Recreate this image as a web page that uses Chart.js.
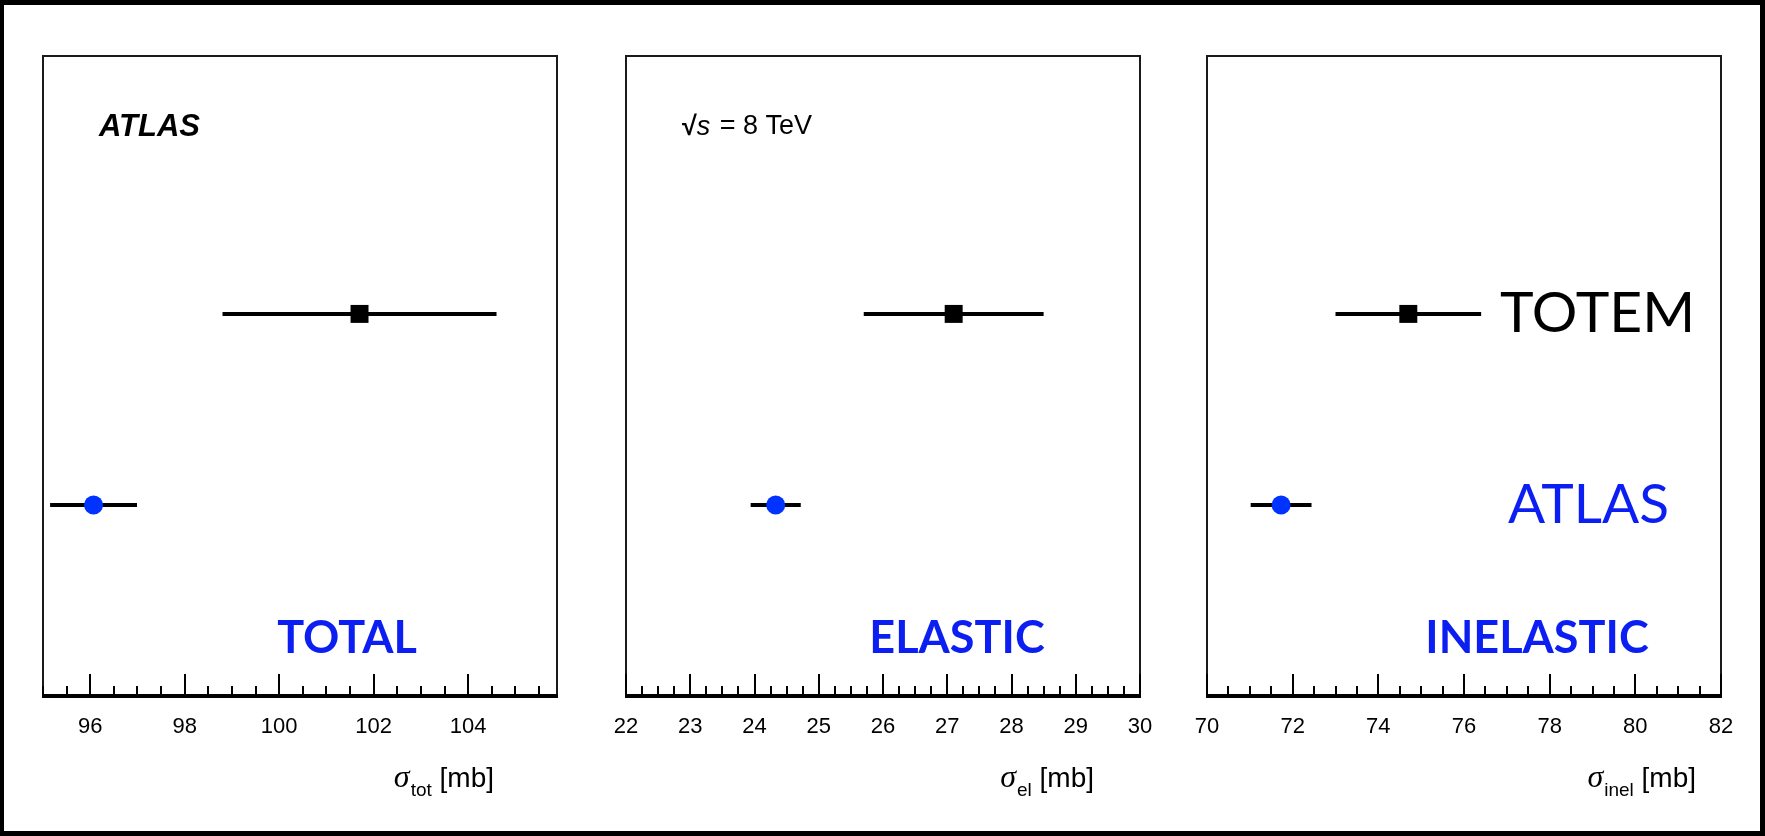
<!DOCTYPE html>
<html>
<head>
<meta charset="utf-8">
<script src="https://cdn.jsdelivr.net/npm/chart.js@4.4.0/dist/chart.umd.min.js"></script>
<style>
  html, body { margin: 0; padding: 0; background: #000; width: 1765px; height: 836px; overflow: hidden; }
  #page { position: absolute; left: 4px; top: 5px; width: 1756px; height: 826px; background: #fff; }
  canvas { position: absolute; top: 0; }
</style>
</head>
<body>
<div id="page"></div>
<canvas id="c0" width="591" height="836" style="left:0px"></canvas>
<canvas id="c1" width="582" height="836" style="left:591px"></canvas>
<canvas id="c2" width="592" height="836" style="left:1173px"></canvas>
<script>
// measurements (mb), 8 TeV
const panelNames = ['TOTAL', 'ELASTIC', 'INELASTIC'];
const experiments = ['ATLAS', 'TOTEM'];
const atlasValues = [96.07, 24.33, 71.73];
const atlasErrors = [0.92, 0.39, 0.71];
const totemValues = [101.7, 27.1, 74.7];
const totemErrors = [2.9, 1.4, 1.7];

// x axes
const axisMin = [95, 22, 70];
const axisMax = [105.88, 30, 82];
const tickLabels = [
    ['96', '98', '100', '102', '104'],
    ['22', '23', '24', '25', '26', '27', '28', '29', '30'],
    ['70', '72', '74', '76', '78', '80', '82']
];
const minorStep = [0.5, 0.25, 0.5];
const axisSubscripts = ['tot', 'el', 'inel'];

const BLUE_TEXT = '#0c1ff2';
const BLUE_MARK = '#0033ff';
const pads = [[43, 34], [35, 33], [34, 44]];
const labelCenter = [304, 331, 330];
const titleRight = [63, 46, 25];

function drawAxisTitle(ctx, xRight, y, sub) {
    const fSigma = 'italic 32px "Liberation Serif", serif';
    const fSub = '19px "Liberation Sans", Arial, sans-serif';
    const fMain = '28px "Liberation Sans", Arial, sans-serif';
    ctx.font = fMain; const wMain = ctx.measureText(' [mb]').width;
    ctx.font = fSub; const wSub = ctx.measureText(sub).width;
    ctx.font = fSigma; const wSig = ctx.measureText('σ').width;
    let x = xRight - wMain - wSub - wSig - 1;
    ctx.fillStyle = '#000';
    ctx.textAlign = 'left';
    ctx.textBaseline = 'alphabetic';
    ctx.font = fSigma; ctx.fillText('σ', x, y); x += wSig + 1;
    ctx.font = fSub; ctx.fillText(sub, x, y + 9); x += wSub;
    ctx.font = fMain; ctx.fillText(' [mb]', x, y);
}

const decor = {
    id: 'decor',
    beforeDatasetsDraw(chart) {
        const ctx = chart.ctx;
        const xs = chart.scales.x, ys = chart.scales.y;
        ctx.save();
        ctx.strokeStyle = '#000';
        ctx.lineWidth = 4;
        chart.data.datasets.forEach(ds => {
            ds.data.forEach((p, k) => {
                const e = ds.errors[k];
                const py = ys.getPixelForValue(p.y);
                ctx.beginPath();
                ctx.moveTo(xs.getPixelForValue(p.x - e), py);
                ctx.lineTo(xs.getPixelForValue(p.x + e), py);
                ctx.stroke();
            });
        });
        ctx.restore();
    },
    afterDraw(chart) {
        const ctx = chart.ctx;
        const i = chart.options.panelIndex;
        const a = chart.chartArea;
        const xs = chart.scales.x, ys = chart.scales.y;
        ctx.save();
        // frame
        ctx.strokeStyle = '#1a1a1a';
        ctx.lineWidth = 2;
        ctx.beginPath();
        ctx.moveTo(a.left, a.bottom);
        ctx.lineTo(a.left, a.top);
        ctx.lineTo(a.right, a.top);
        ctx.lineTo(a.right, a.bottom);
        ctx.stroke();
        ctx.strokeStyle = '#000';
        ctx.lineWidth = 4;
        ctx.beginPath();
        ctx.moveTo(a.left - 1, a.bottom);
        ctx.lineTo(a.right + 1, a.bottom);
        ctx.stroke();
        // tick marks
        const majors = tickLabels[i].map(Number);
        ctx.lineWidth = 2;
        const step = minorStep[i];
        for (let v = Math.ceil(axisMin[i] / step) * step; v <= axisMax[i] + 1e-9; v += step) {
            const isMajor = majors.some(m => Math.abs(m - v) < 1e-6);
            const px = Math.round(xs.getPixelForValue(v));
            ctx.beginPath();
            ctx.moveTo(px, a.bottom);
            ctx.lineTo(px, a.bottom - (isMajor ? 22 : 10));
            ctx.stroke();
        }
        // panel label
        ctx.fillStyle = BLUE_TEXT;
        ctx.font = 'bold 45px Lato, "Open Sans", sans-serif';
        ctx.textAlign = 'center';
        ctx.textBaseline = 'middle';
        ctx.fillText(panelNames[i], a.left + labelCenter[i], 638);
        // top-left labels
        ctx.fillStyle = '#000';
        ctx.textAlign = 'left';
        if (i === 0) {
            ctx.font = 'italic bold 31px "Liberation Sans", Arial, sans-serif';
            ctx.fillText('ATLAS', a.left + 56, 127);
        } else if (i === 1) {
            ctx.font = 'bold 27px "Liberation Sans", Arial, sans-serif';
            let x = a.left + 56;
            ctx.fillText('√', x, 128); x += ctx.measureText('√').width;
            ctx.font = 'italic 27px "Liberation Sans", Arial, sans-serif';
            ctx.fillText('s', x, 127); x += ctx.measureText('s').width + 2;
            ctx.font = '27px "Liberation Sans", Arial, sans-serif';
            ctx.fillText(' = 8 TeV', x, 127);
        } else {
            ctx.font = '57px Lato, "Open Sans", sans-serif';
            ctx.fillStyle = '#000';
            ctx.fillText(experiments[1], a.left + 293, ys.getPixelForValue(2));
            ctx.fillStyle = BLUE_TEXT;
            ctx.font = '55px Lato, "Open Sans", sans-serif';
            ctx.fillText(experiments[0], a.left + 301, ys.getPixelForValue(1));
        }
        // axis title
        drawAxisTitle(ctx, a.right - titleRight[i], 787, axisSubscripts[i]);
        ctx.restore();
    }
};

for (let i = 0; i < 3; i++) {
    const ctx = document.getElementById('c' + i).getContext('2d');
    const majors = tickLabels[i].map(Number);
    new Chart(ctx, {
        type: 'scatter',
        data: {
            datasets: [
                {
                    label: experiments[1],
                    data: [{ x: totemValues[i], y: experiments.indexOf('TOTEM') + 1 }],
                    errors: [totemErrors[i]],
                    pointStyle: 'rect',
                    pointRadius: 12.7,
                    backgroundColor: '#000',
                    borderWidth: 0
                },
                {
                    label: experiments[0],
                    data: [{ x: atlasValues[i], y: experiments.indexOf('ATLAS') + 1 }],
                    errors: [atlasErrors[i]],
                    pointStyle: 'circle',
                    pointRadius: 9.5,
                    backgroundColor: BLUE_MARK,
                    borderWidth: 0
                }
            ]
        },
        options: {
            panelIndex: i,
            responsive: false,
            animation: false,
            devicePixelRatio: 1,
            layout: { padding: { left: pads[i][0], right: pads[i][1], top: 56, bottom: 0 } },
            plugins: { legend: { display: false }, tooltip: { enabled: false } },
            scales: {
                x: {
                    type: 'linear',
                    position: 'bottom',
                    min: axisMin[i],
                    max: axisMax[i],
                    grid: { display: false, drawTicks: false },
                    border: { display: false },
                    afterBuildTicks: s => { s.ticks = majors.map(v => ({ value: v })); },
                    afterFit: s => { s.height = 140; },
                    ticks: {
                        autoSkip: false,
                        maxRotation: 0,
                        padding: 18,
                        color: '#000',
                        font: { family: '"Liberation Sans", Arial, sans-serif', size: 22 },
                        callback: (v, idx) => tickLabels[i][idx]
                    }
                },
                y: { display: false, min: 0, max: 3.35 }
            }
        },
        plugins: [decor]
    });
}
</script>
</body>
</html>
